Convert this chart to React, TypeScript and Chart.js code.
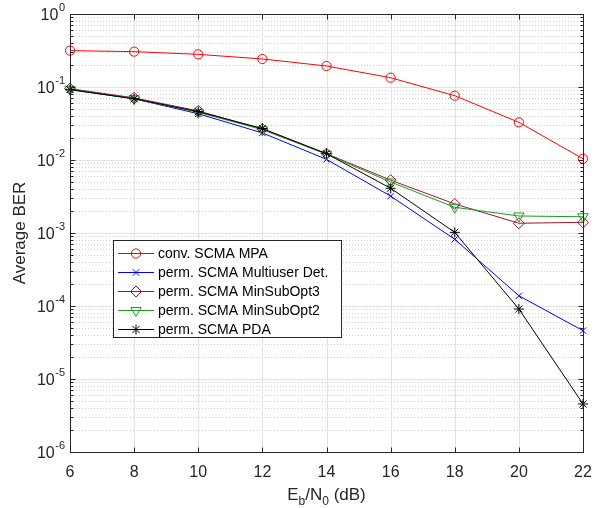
import React, { useEffect, useRef } from 'react';
import { Chart, registerables } from 'chart.js';

Chart.register(...registerables);

const snr = [6, 8, 10, 12, 14, 16, 18, 20, 22];
const xTicks = [6, 8, 10, 12, 14, 16, 18, 20, 22];
const yDecades = [0, -1, -2, -3, -4, -5, -6];

const mpa = [0.315, 0.305, 0.28, 0.242, 0.194, 0.134, 0.076, 0.0328, 0.0104];
const mud = [0.092, 0.069, 0.043, 0.0235, 0.0102, 0.0032, 0.00082, 0.000138, 0.000046];
const opt3 = [0.095, 0.071, 0.047, 0.0265, 0.0122, 0.0053, 0.0025, 0.00136, 0.0014];
const opt2 = [0.093, 0.069, 0.045, 0.026, 0.012, 0.005, 0.00225, 0.00171, 0.00167];
const pda = [0.092, 0.069, 0.046, 0.027, 0.0122, 0.0041, 0.00102, 0.000091, 0.00000455];

const seriesNames = [
  'conv. SCMA MPA',
  'perm. SCMA Multiuser Det.',
  'perm. SCMA MinSubOpt3',
  'perm. SCMA MinSubOpt2',
  'perm. SCMA PDA',
];
const seriesData = [mpa, mud, opt3, opt2, pda];
const seriesColors = ['#ff0000', '#0000ff', '#a2142f', '#1f9a1f', '#000000'];
const seriesMarkers = ['circle', 'crossRot', 'rectRot', 'triangle', 'star'];
const markerRadius = [4.6, 4.5, 5.5, 6, 5];
const markerRotation = [0, 0, 0, 180, 0];

const AXIS = '#262626';
const FONT = '"Liberation Sans", Arial, Helvetica, sans-serif';

function drawMarker(ctx: CanvasRenderingContext2D, style: string, x: number, y: number, r: number, color: string) {
  ctx.save();
  ctx.strokeStyle = color;
  ctx.lineWidth = 1;
  ctx.beginPath();
  if (style === 'circle') {
    ctx.arc(x, y, r, 0, Math.PI * 2);
  } else if (style === 'crossRot') {
    const d = r * Math.SQRT1_2;
    ctx.moveTo(x - d, y - d); ctx.lineTo(x + d, y + d);
    ctx.moveTo(x - d, y + d); ctx.lineTo(x + d, y - d);
  } else if (style === 'rectRot') {
    ctx.moveTo(x, y - r); ctx.lineTo(x + r, y); ctx.lineTo(x, y + r); ctx.lineTo(x - r, y); ctx.closePath();
  } else if (style === 'triangle') {
    const s = Math.sin(Math.PI / 3) * r;
    ctx.moveTo(x - s, y - r / 2); ctx.lineTo(x + s, y - r / 2); ctx.lineTo(x, y + r); ctx.closePath();
  } else if (style === 'star') {
    const d = r * Math.SQRT1_2;
    ctx.moveTo(x - r, y); ctx.lineTo(x + r, y);
    ctx.moveTo(x, y - r); ctx.lineTo(x, y + r);
    ctx.moveTo(x - d, y - d); ctx.lineTo(x + d, y + d);
    ctx.moveTo(x - d, y + d); ctx.lineTo(x + d, y - d);
  }
  ctx.stroke();
  ctx.restore();
}

const matlabPlugin = {
  id: 'matlabAxes',
  beforeDatasetsDraw(chart: any) {
    const { ctx, chartArea: a, scales } = chart;
    const xs = scales.x;
    const ys = scales.y;
    ctx.save();
    // minor horizontal grid (dotted)
    ctx.strokeStyle = '#cfcfcf';
    ctx.lineWidth = 1;
    ctx.setLineDash([1, 2]);
    for (const e of yDecades) {
      if (e === 0) continue;
      for (let m = 2; m <= 9; m++) {
        const py = Math.round(ys.getPixelForValue(m * Math.pow(10, e))) + 0.5;
        ctx.beginPath();
        ctx.moveTo(a.left, py);
        ctx.lineTo(a.right, py);
        ctx.stroke();
      }
    }
    ctx.setLineDash([]);
    // major grid
    ctx.strokeStyle = '#e2e2e2';
    for (const e of yDecades) {
      const py = Math.round(ys.getPixelForValue(Math.pow(10, e))) + 0.5;
      ctx.beginPath();
      ctx.moveTo(a.left, py);
      ctx.lineTo(a.right, py);
      ctx.stroke();
    }
    for (const t of xTicks) {
      const px = Math.round(xs.getPixelForValue(t)) + 0.5;
      ctx.beginPath();
      ctx.moveTo(px, a.top);
      ctx.lineTo(px, a.bottom);
      ctx.stroke();
    }
    ctx.restore();
  },
  afterDraw(chart: any) {
    const { ctx, chartArea: a, scales } = chart;
    const xs = scales.x;
    const ys = scales.y;
    const L = Math.round(a.left) + 0.5;
    const R = Math.round(a.right) + 0.5;
    const T = Math.round(a.top) + 0.5;
    const B = Math.round(a.bottom) + 0.5;
    ctx.save();
    ctx.strokeStyle = AXIS;
    ctx.lineWidth = 1;
    ctx.strokeRect(L, T, R - L, B - T);
    // x ticks (inward, top and bottom)
    ctx.beginPath();
    for (const t of xTicks) {
      const px = Math.round(xs.getPixelForValue(t)) + 0.5;
      ctx.moveTo(px, B); ctx.lineTo(px, B - 5);
      ctx.moveTo(px, T); ctx.lineTo(px, T + 5);
    }
    // y ticks major and minor
    for (const e of yDecades) {
      const py = Math.round(ys.getPixelForValue(Math.pow(10, e))) + 0.5;
      ctx.moveTo(L, py); ctx.lineTo(L + 5, py);
      ctx.moveTo(R, py); ctx.lineTo(R - 5, py);
      if (e === 0) continue;
      for (let m = 2; m <= 9; m++) {
        const pm = Math.round(ys.getPixelForValue(m * Math.pow(10, e))) + 0.5;
        ctx.moveTo(L, pm); ctx.lineTo(L + 3, pm);
        ctx.moveTo(R, pm); ctx.lineTo(R - 3, pm);
      }
    }
    ctx.stroke();

    ctx.fillStyle = AXIS;
    // x tick labels
    ctx.font = `16px ${FONT}`;
    ctx.textAlign = 'center';
    ctx.textBaseline = 'alphabetic';
    for (const t of xTicks) {
      ctx.fillText(String(t), xs.getPixelForValue(t), 476.5);
    }
    // y tick labels 10^e
    for (const e of yDecades) {
      const py = ys.getPixelForValue(Math.pow(10, e));
      const sup = e === 0 ? '0' : `-${-e}`;
      ctx.font = `11px ${FONT}`;
      const ws = ctx.measureText(sup).width;
      ctx.font = `16px ${FONT}`;
      const wb = ctx.measureText('10').width;
      const right = 65;
      ctx.textAlign = 'left';
      ctx.fillText('10', right - ws - wb - 0.5, py + 5.8);
      ctx.font = `11px ${FONT}`;
      ctx.fillText(sup, right - ws, py - 3.5);
    }
    // x title: E_b/N_0 (dB)
    const parts: [string, number, number][] = [
      ['E', 17, 0], ['b', 12, 5], ['/N', 17, 0], ['0', 12, 5], [' (dB)', 17, 0],
    ];
    let total = 0;
    for (const [s, f] of parts) { ctx.font = `${f}px ${FONT}`; total += ctx.measureText(s).width; }
    let cx = (a.left + a.right) / 2 - total / 2;
    for (const [s, f, dy] of parts) {
      ctx.font = `${f}px ${FONT}`;
      ctx.fillText(s, cx, 500 + dy);
      cx += ctx.measureText(s).width;
    }
    // y title
    ctx.save();
    ctx.translate(24.5, (a.top + a.bottom) / 2);
    ctx.rotate(-Math.PI / 2);
    ctx.textAlign = 'center';
    ctx.font = `17px ${FONT}`;
    ctx.fillText('Average BER', 0, 0);
    ctx.restore();

    // legend
    const lx = 113.5, ly = 240.5, lw = 228, lh = 97;
    ctx.fillStyle = '#ffffff';
    ctx.fillRect(lx, ly, lw, lh);
    ctx.strokeStyle = AXIS;
    ctx.strokeRect(lx, ly, lw, lh);
    ctx.font = `14px ${FONT}`;
    ctx.textAlign = 'left';
    ctx.textBaseline = 'middle';
    for (let i = 0; i < seriesNames.length; i++) {
      const y = 253 + 19 * i;
      ctx.strokeStyle = seriesColors[i];
      ctx.lineWidth = 1;
      ctx.beginPath();
      ctx.moveTo(118, y + 0.5);
      ctx.lineTo(154, y + 0.5);
      ctx.stroke();
      drawMarker(ctx, seriesMarkers[i], 136, y + 0.5, markerRadius[i], seriesColors[i]);
      ctx.fillStyle = '#000000';
      ctx.fillText(seriesNames[i], 158, y + 1);
    }
    ctx.restore();
  },
};

export default function App() {
  const ref = useRef<HTMLCanvasElement | null>(null);
  useEffect(() => {
    document.body.style.margin = '0';
    const canvas = ref.current;
    if (!canvas) return;
    const chart = new Chart(canvas, {
      type: 'line',
      data: {
        datasets: seriesNames.map((name, i) => ({
          label: name,
          data: snr.map((x, j) => ({ x, y: seriesData[i][j] })),
          borderColor: seriesColors[i],
          backgroundColor: 'rgba(0,0,0,0)',
          pointBorderColor: seriesColors[i],
          pointBackgroundColor: 'rgba(0,0,0,0)',
          pointStyle: seriesMarkers[i] as any,
          pointRadius: markerRadius[i],
          pointRotation: markerRotation[i],
          pointBorderWidth: 1,
          borderWidth: 1,
          tension: 0,
          fill: false,
          clip: false as any,
          order: seriesNames.length - i,
        })),
      },
      options: {
        animation: false,
        responsive: false,
        events: [],
        layout: { padding: { left: 0, right: 19, top: 14, bottom: 0 } },
        plugins: { legend: { display: false }, tooltip: { enabled: false } },
        scales: {
          x: {
            type: 'linear',
            min: 6,
            max: 22,
            ticks: { display: false, stepSize: 2 },
            grid: { display: false },
            border: { display: false },
            afterFit: (s: any) => { s.height = 56; },
          },
          y: {
            type: 'logarithmic',
            min: 1e-6,
            max: 1,
            ticks: { display: false },
            grid: { display: false },
            border: { display: false },
            afterFit: (s: any) => { s.width = 70; },
          },
        },
      },
      plugins: [matlabPlugin],
    });
    return () => chart.destroy();
  }, []);
  return (
    <div style={{ width: 602, height: 508, background: '#ffffff' }}>
      <canvas ref={ref} width={602} height={508} style={{ display: 'block' }} />
    </div>
  );
}
